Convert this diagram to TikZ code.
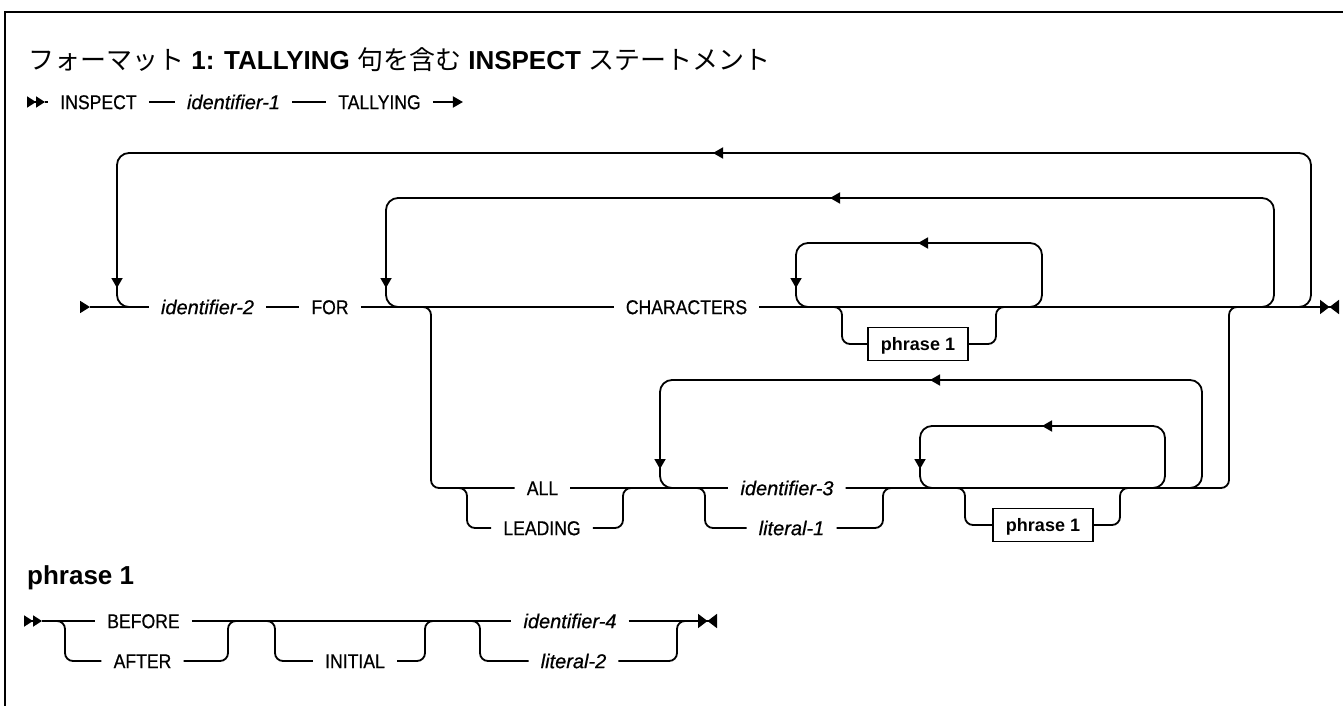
\documentclass[tikz,border=0pt]{standalone}
\usepackage{fontspec}
\setmainfont{Liberation Sans}[UprightFeatures={FakeStretch=0.88, FakeBold=0.6},
  ItalicFeatures={FakeBold=0.6}]
\newfontfamily\cjk{Noto Sans CJK JP}
\usetikzlibrary{arrows.meta, positioning}

\begin{document}
\begin{tikzpicture}[x=1pt, y=-1pt,
  track/.style={line width=1.8pt},
  loopback/.style={track, rounded corners=12pt},
  branch/.style={track, rounded corners=8pt},
  larr/.style={track, -{Triangle[length=10pt,width=11pt]}},
  dstart/.style={track, -{Triangle[length=9pt,width=11pt] Triangle[length=9pt,width=11pt]}},
  sstart/.style={track, -{Triangle[length=10pt,width=12pt]}},
  dend/.style={track, -{Triangle[length=9.5pt,width=14pt] Triangle[length=9.5pt,width=14pt,reversed]}},
  lbl/.style={inner xsep=12pt, inner ysep=0pt, text height=14.3pt, text depth=0pt,
              font=\fontsize{20}{24}\selectfont},
  var/.style={lbl, font=\fontsize{20}{24}\selectfont\itshape},
  phr/.style={draw, line width=1.5pt, minimum width=100pt, minimum height=33pt,
              inner sep=0pt, text height=13pt, text depth=0pt,
              font=\fontsize{18}{22}\selectfont\bfseries},
  head/.style={anchor=west, inner sep=0pt, font=\fontsize{26}{30}\selectfont\bfseries}]
  \useasboundingbox (0,0) rectangle (1343,706);
  % frame
  \draw[line width=2.5pt] (1343,12) -- (5,12) -- (5,706);

  % Title and first line
  \node[head] (title) at (28,60)
    {{\cjk\mdseries フォーマット} 1: TALLYING {\cjk\mdseries 句を含む} INSPECT {\cjk\mdseries ステートメント}};
  \coordinate (s1) at (27,102);
  \coordinate (s1e) at (45,102);
  \node[lbl] (inspect) at (98.5,102) {INSPECT};
  \node[var] (id1) at (233.5,102) {identifier-1};
  \node[lbl] (tallying) at (379.5,102) {TALLYING};
  \draw[dstart] (s1) -- (s1e);
  \draw[track] (s1e) -- (inspect.west);
  \draw[track] (inspect.east) -- (id1.west);
  \draw[track] (id1.east) -- (tallying.west);
  \draw[larr] (tallying.east) -- ++(30,0);

  % Main row
  \coordinate (s2) at (80,307);
  \coordinate (s2e) at (90,307);
  \coordinate (fin) at (1339,307);
  \node[var] (id2) at (207.5,307) {identifier-2};
  \node[lbl] (for) at (330,307) {FOR};
  \node[lbl] (chars) at (686.5,307) {CHARACTERS};
  \node[phr] (box1) at (918,344) {phrase 1};
  \node[lbl] (all) at (542.5,488) {ALL};
  \node[lbl] (leading) at (542,528) {LEADING};
  \node[var] (id3) at (787,488) {identifier-3};
  \node[var] (lit1) at (791.5,528) {literal-1};
  \node[phr] (box2) at (1043,525) {phrase 1};
  \draw[sstart] (s2) -- (s2e);
  \draw[track] (s2e) -- (id2.west);
  \draw[track] (id2.east) -- (for.west);
  \draw[track] (for.east) -- (chars.west);
  \draw[dend] (chars.east) -- (fin);
  \draw[track] (all.east) -- (id3.west);

  % ALL / LEADING path leaves and rejoins the main row
  \coordinate (all-in) at (431,307);
  \coordinate (all-out) at (1229,307);
  \draw[branch] ([xshift=-15pt]all-in) -- (all-in) |- (all.west);
  \draw[branch] (id3.east) -| (all-out) -- ([xshift=15pt]all-out);

  % Repeat loops: left x / top y / right x / row y / arrow x
  \foreach \n/\l/\t/\r/\row/\ax in {outer/117/153/1311/307/713, forloop/386/198/1274/307/830,
      charloop/796/243/1042/307/918, idloop/660/380/1202/488/930, phrloop/920/426/1165/488/1042} {
    \coordinate (\n-L) at (\l,\row);
    \coordinate (\n-R) at (\r,\row);
    \coordinate (\n-TL) at (\l,\t);
    \coordinate (\n-TR) at (\r,\t);
    \draw[loopback] ([xshift=-18pt]\n-R) -- (\n-R) -- (\n-TR) -- (\n-TL) -- (\n-L) -- ([xshift=18pt]\n-L);
    \draw[larr] ([xshift=20pt]\ax,\t) -- (\ax,\t);
    \draw[larr] ([yshift=38pt]\n-L) -- ([yshift=19pt]\n-L);
  }

  % phrase 1
  \node[head] (phrhead) at (27,578) {phrase 1};
  \coordinate (s3) at (25,621);
  \coordinate (s3e) at (42,621);
  \coordinate (fin2) at (717,621);
  \node[lbl] (before) at (143.5,621) {BEFORE};
  \node[lbl] (after) at (142.5,661) {AFTER};
  \node[lbl] (initial) at (355,661) {INITIAL};
  \node[var] (id4) at (570,621) {identifier-4};
  \node[var] (lit2) at (573.5,661) {literal-2};
  \draw[dstart] (s3) -- (s3e);
  \draw[track] (s3e) -- (before.west);
  \draw[track] (before.east) -- (id4.west);
  \draw[dend] (id4.east) -- (fin2);

  % Lower alternatives: node / in x / out x / row y
  \foreach \n/\l/\r/\row in {leading/467/623/488, lit1/705/883/488, box1/842/996/307,
      box2/965/1120/488, after/65/228/621, initial/275/425/621, lit2/480/677/621} {
    \coordinate (\n-in) at (\l,\row);
    \coordinate (\n-out) at (\r,\row);
    \draw[branch] ([xshift=-15pt]\n-in) -- (\n-in) |- (\n.west);
    \draw[branch] (\n.east) -| (\n-out) -- ([xshift=15pt]\n-out);
  }
\end{tikzpicture}
\end{document}
